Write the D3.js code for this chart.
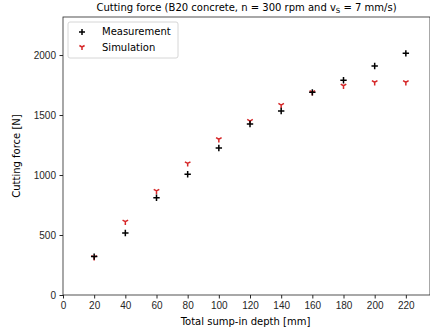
<!DOCTYPE html>
<html lang="en">
<head>
  <meta charset="UTF-8">
  <title>Cutting force</title>
  <script src="https://cdn.jsdelivr.net/npm/d3@7"></script>
  <style>
    body{ margin:0; background:#fff; }
    svg{ font-family:"DejaVu Sans", sans-serif; }
    .tick text{ font-size:10px; fill:#262626; }
    .tick line, .domain{ stroke:#262626; }
  </style>
</head>
<body>
  <svg></svg>
  <script>
  var depth = [20, 40, 60, 80, 100, 120, 140, 160, 180, 200, 220],
    measured = [320, 517, 811, 1006, 1225, 1425, 1533, 1689, 1790, 1908, 2014],
    simulated = [315, 611, 867, 1097, 1298, 1450, 1583, 1690, 1744, 1773, 1773],
    xTicks = [0, 20, 40, 60, 80, 100, 120, 140, 160, 180, 200, 220],
    yTicks = [0, 500, 1000, 1500, 2000];

  var W = 430, H = 333,
    L = 63, R = 430, T = 17, B = 295;

  var svg = d3.select("svg").attr("width", W).attr("height", H);

  var x = d3.scaleLinear().domain([0, 235.5]).range([L, R]),
    y = d3.scaleLinear().domain([0, 2317]).range([B, T]);

  // frame
  svg.append("rect").attr("x", L).attr("y", T).attr("width", R - L).attr("height", B - T)
    .attr("fill", "none").attr("stroke", "#262626").attr("stroke-width", 0.8);

  svg.append("g").attr("transform", "translate(0," + B + ")")
    .call(d3.axisBottom(x).tickValues(xTicks).tickSize(3.5).tickPadding(3.5))
    .call(g => g.select(".domain").remove());
  svg.append("g").attr("transform", "translate(" + L + ",0)")
    .call(d3.axisLeft(y).tickValues(yTicks).tickFormat(d3.format("d")).tickSize(3.5).tickPadding(3.5))
    .call(g => g.select(".domain").remove());

  // markers
  function plus(s) { return "M" + (-s) + ",0H" + s + "M0," + (-s) + "V" + s; }
  function triDown(s) {
    var a = s * 0.866, b = s * 0.5;
    return "M0,0V" + s + "M0,0L" + (-a) + "," + (-b) + "M0,0L" + a + "," + (-b);
  }

  svg.append("g").selectAll("path").data(depth).join("path")
    .attr("transform", (d, i) => "translate(" + x(d) + "," + y(simulated[i]) + ")")
    .attr("d", triDown(3.2)).attr("stroke", "#d62728").attr("stroke-width", 1.5).attr("fill", "none");

  svg.append("g").selectAll("path").data(depth).join("path")
    .attr("transform", (d, i) => "translate(" + x(d) + "," + y(measured[i]) + ")")
    .attr("d", plus(3.2)).attr("stroke", "#000").attr("stroke-width", 1.5).attr("fill", "none");

  // title
  var title = svg.append("text").attr("x", (L + R) / 2).attr("y", 11)
    .attr("text-anchor", "middle").attr("font-size", 10).attr("fill", "#000");
  title.append("tspan").text("Cutting force (B20 concrete, n = 300 rpm and v");
  title.append("tspan").attr("font-size", 7).attr("dy", 2).text("S");
  title.append("tspan").attr("dy", -2).text(" = 7 mm/s)");

  // axis labels
  svg.append("text").attr("x", (L + R) / 2 - 1).attr("y", 325).attr("text-anchor", "middle")
    .attr("font-size", 10).attr("fill", "#000").text("Total sump-in depth [mm]");
  svg.append("text").attr("transform", "translate(20," + ((T + B) / 2) + ")rotate(-90)")
    .attr("text-anchor", "middle").attr("font-size", 10).attr("fill", "#000").text("Cutting force [N]");

  // legend
  var lg = svg.append("g");
  lg.append("rect").attr("x", 68).attr("y", 22).attr("width", 110).attr("height", 36).attr("rx", 2)
    .attr("fill", "#fff").attr("fill-opacity", 0.8).attr("stroke", "#ccc").attr("stroke-width", 0.8);
  lg.append("path").attr("transform", "translate(82,32)").attr("d", plus(3))
    .attr("stroke", "#000").attr("stroke-width", 1.5);
  lg.append("path").attr("transform", "translate(82,47)").attr("d", triDown(3))
    .attr("stroke", "#d62728").attr("stroke-width", 1.5).attr("fill", "none");
  lg.append("text").attr("x", 102).attr("y", 35).attr("font-size", 10).attr("fill", "#000").text("Measurement");
  lg.append("text").attr("x", 102).attr("y", 51).attr("font-size", 10).attr("fill", "#000").text("Simulation");
  </script>
</body>
</html>
